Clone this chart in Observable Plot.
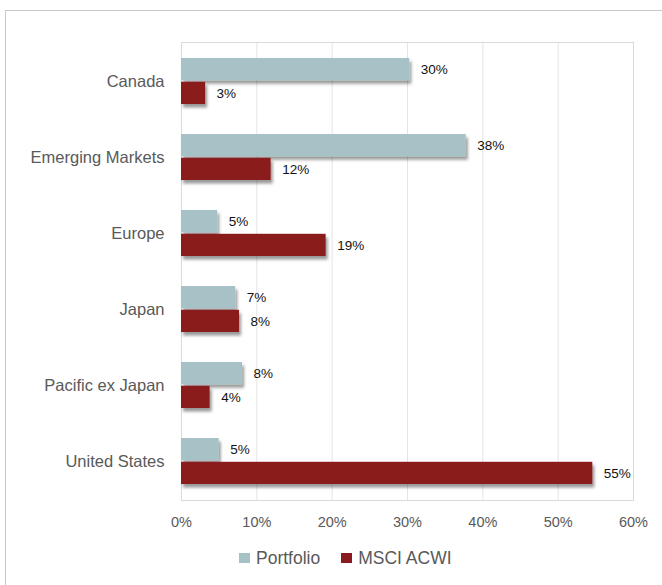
<!DOCTYPE html>
<html>
<head>
<meta charset="utf-8">
<script src="https://cdn.jsdelivr.net/npm/d3@7"></script>
<script src="https://cdn.jsdelivr.net/npm/@observablehq/plot@0.6"></script>
<style>
  html, body { margin: 0; padding: 0; background: #fff; overflow: hidden; }
  #wrap { position: relative; width: 662px; height: 585px; overflow: hidden;
    font-family: "Liberation Sans", Arial, sans-serif; }
  #border { position: absolute; left: 5px; top: 10px; width: 720px; height: 640px;
    border: 1.5px solid #c8c8c8; box-sizing: border-box; }
  #chart { position: absolute; left: 0; top: 0; }
  #legend { position: absolute; top: 547px; left: 239px; display: flex; align-items: center;
    font-size: 17.5px; line-height: 22px; color: #595959; white-space: nowrap; }
  #legend .sw { display: inline-block; width: 11px; height: 10px; margin-right: 6px; }
  #legend .item { display: flex; align-items: center; margin-right: 21px; }
</style>
</head>
<body>
<div id="wrap">
  <div id="border"></div>
  <div id="chart"></div>
  <div id="legend"></div>
</div>
<script>
const categories = ["Canada", "Emerging Markets", "Europe", "Japan", "Pacific ex Japan", "United States"];
const series = ["Portfolio", "MSCI ACWI"];
const portfolio = [30.3, 37.8, 4.8, 7.2, 8.1, 5.0];
const msci = [3.2, 11.9, 19.2, 7.7, 3.8, 54.6];
const xTicks = [0, 10, 20, 30, 40, 50, 60];
const colors = ["#a6c2c6", "#8a1a1f"];

const pData = categories.map((c, i) => ({category: c, series: series[0], value: portfolio[i]}));
const mData = categories.map((c, i) => ({category: c, series: series[1], value: msci[i]}));

const font = '"Liberation Sans", Arial, sans-serif';

const chart = Plot.plot({
  width: 662,
  height: 535,
  marginLeft: 181,
  marginRight: 29,
  marginTop: 42,
  marginBottom: 35,
  style: {fontFamily: font, color: "#595959", background: "transparent"},
  x: {domain: [0, 60], ticks: xTicks, tickFormat: d => d + "%"},
  y: {domain: categories, paddingInner: 0.4, paddingOuter: 0.2},
  marks: [
    Plot.gridX(xTicks, {stroke: "#e4e4e4", strokeOpacity: 1}),
    Plot.frame({stroke: "#dadada"}),
    Plot.barX(pData, {x: "value", y: "category", fill: colors[0], insetBottom: 23.8}),
    Plot.barX(mData, {x: "value", y: "category", fill: colors[1], insetTop: 23.8}),
    Plot.text(pData, {x: "value", y: "category", text: d => Math.round(d.value) + "%", dx: 11, dy: -11.5,
      textAnchor: "start", fill: "#111", fontSize: 13.5}),
    Plot.text(mData, {x: "value", y: "category", text: d => Math.round(d.value) + "%", dx: 11, dy: 12.5,
      textAnchor: "start", fill: "#111", fontSize: 13.5}),
    Plot.axisY({tickSize: 0, tickPadding: 17, fontSize: 16.5, label: null, fill: "#595959"}),
    Plot.axisX({ticks: xTicks, tickSize: 0, tickPadding: 16, fontSize: 14.5, label: null, fill: "#595959",
      tickFormat: d => d + "%"})
  ]
});

// drop shadow on bars
const svg = d3.select(chart);
const defs = svg.insert("defs", ":first-child");
const f = defs.append("filter").attr("id", "shadow").attr("x", "-10%").attr("y", "-30%")
  .attr("width", "130%").attr("height", "180%");
f.append("feDropShadow").attr("dx", 2).attr("dy", 3.5).attr("stdDeviation", 1.8)
  .attr("flood-color", "#000").attr("flood-opacity", 0.4);
svg.selectAll('g[aria-label="bar"]').attr("filter", "url(#shadow)");

document.getElementById("chart").appendChild(chart);

const legend = d3.select("#legend");
series.forEach((s, i) => {
  const it = legend.append("div").attr("class", "item");
  it.append("span").attr("class", "sw").style("background", colors[i]);
  it.append("span").text(s);
});
</script>
</body>
</html>
